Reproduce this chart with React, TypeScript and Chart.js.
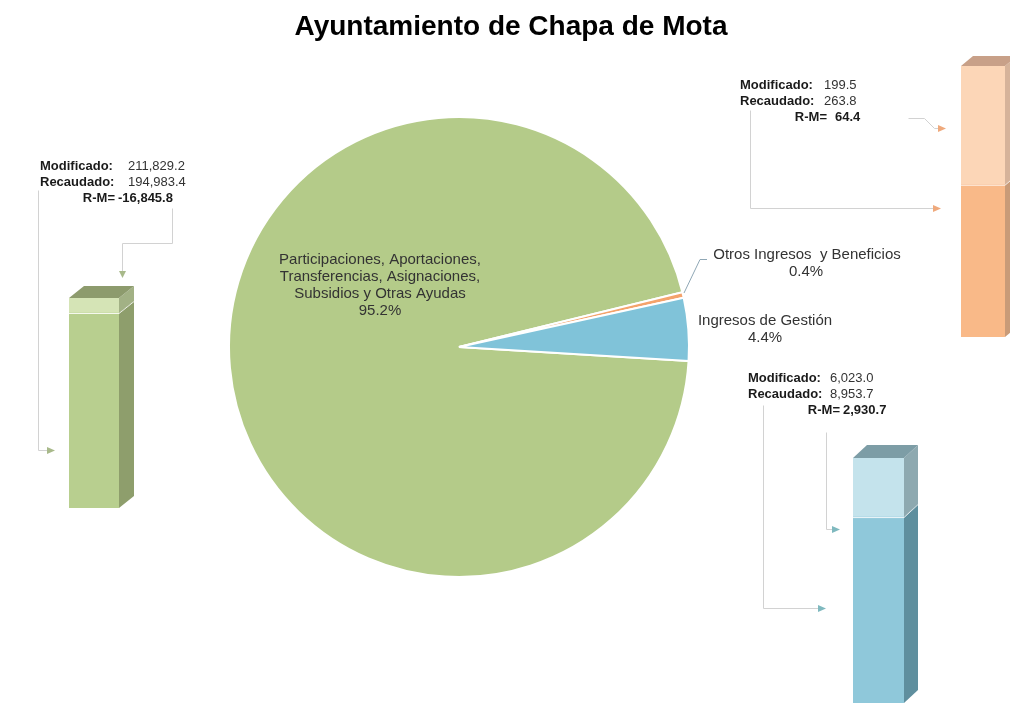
import React, { useEffect, useRef } from "react";
import { Chart, registerables } from "chart.js";

Chart.register(...registerables);

const TITLE = "Ayuntamiento de Chapa de Mota";

// Pie
const pieCategories = [
  "Participaciones, Aportaciones, Transferencias, Asignaciones, Subsidios y Otras Ayudas",
  "Otros Ingresos  y Beneficios",
  "Ingresos de Gestión",
];
const pieShares = [95.2, 0.4, 4.4];
const pieColors = ["#b4cb89", "#f4a36c", "#80c3d9"];

// Bars (Modificado / Recaudado per category)
const barCategories = ["Participaciones", "Otros Ingresos", "Ingresos de Gestión"];
const modificado = [211829.2, 199.5, 6023.0];
const recaudado = [194983.4, 263.8, 8953.7];
const rmValues = [-16845.8, 64.4, 2930.7];
// lower bound of each (hidden) bar value axis
const barAxisMin = [-24000, 117, -3200];

const FONT = "'Liberation Sans', Arial, Helvetica, sans-serif";

const fmt = (v: number) =>
  v.toLocaleString("en-US", { minimumFractionDigits: 1, maximumFractionDigits: 1 });

type Pt = [number, number];

function poly(ctx: CanvasRenderingContext2D, pts: Pt[], color: string) {
  ctx.beginPath();
  ctx.moveTo(pts[0][0], pts[0][1]);
  for (let i = 1; i < pts.length; i++) ctx.lineTo(pts[i][0], pts[i][1]);
  ctx.closePath();
  ctx.fillStyle = color;
  ctx.fill();
}

function connector(
  ctx: CanvasRenderingContext2D,
  pts: Pt[],
  arrowColor: string,
  dir: "right" | "down"
) {
  ctx.save();
  ctx.strokeStyle = "#d2d2d2";
  ctx.lineWidth = 1;
  ctx.beginPath();
  ctx.moveTo(pts[0][0] + 0.5, pts[0][1] + 0.5);
  for (let i = 1; i < pts.length; i++) ctx.lineTo(pts[i][0] + 0.5, pts[i][1] + 0.5);
  ctx.stroke();
  const [ex, ey] = pts[pts.length - 1];
  ctx.fillStyle = arrowColor;
  ctx.beginPath();
  if (dir === "right") {
    ctx.moveTo(ex, ey - 3);
    ctx.lineTo(ex + 8, ey + 0.5);
    ctx.lineTo(ex, ey + 4);
  } else {
    ctx.moveTo(ex - 3, ey);
    ctx.lineTo(ex + 0.5, ey + 7);
    ctx.lineTo(ex + 4, ey);
  }
  ctx.closePath();
  ctx.fill();
  ctx.restore();
}

function annotationBlock(
  ctx: CanvasRenderingContext2D,
  idx: number,
  labelX: number,
  valueX: number,
  rmEndX: number,
  rmValueX: number,
  y0: number,
  step: number
) {
  ctx.save();
  ctx.textBaseline = "middle";
  ctx.fillStyle = "#1a1a1a";
  const bold = `bold 13px ${FONT}`;
  const reg = `13px ${FONT}`;
  ctx.textAlign = "left";
  ctx.font = bold;
  ctx.fillText("Modificado:", labelX, y0);
  ctx.fillText("Recaudado:", labelX, y0 + step);
  ctx.font = reg;
  ctx.fillStyle = "#333";
  ctx.fillText(fmt(modificado[idx]), valueX, y0);
  ctx.fillText(fmt(recaudado[idx]), valueX, y0 + step);
  ctx.fillStyle = "#1a1a1a";
  ctx.font = bold;
  ctx.textAlign = "right";
  ctx.fillText("R-M=", rmEndX, y0 + 2 * step);
  ctx.textAlign = "left";
  ctx.fillText(fmt(rmValues[idx]), rmValueX, y0 + 2 * step);
  ctx.restore();
}

const overlayPlugin = {
  id: "overlay",
  afterDraw(chart: any) {
    const ctx: CanvasRenderingContext2D = chart.ctx;
    ctx.save();
    // title
    ctx.fillStyle = "#000";
    ctx.font = `bold 28px ${FONT}`;
    ctx.textAlign = "center";
    ctx.textBaseline = "alphabetic";
    ctx.fillText(TITLE, 511, 35);

    // pie labels
    ctx.font = `15px ${FONT}`;
    ctx.fillStyle = "#333";
    ctx.textBaseline = "middle";
    const greenLines = [
      "Participaciones, Aportaciones,",
      "Transferencias, Asignaciones,",
      "Subsidios y Otras Ayudas",
      `${pieShares[0].toFixed(1)}%`,
    ];
    greenLines.forEach((t, i) => ctx.fillText(t, 380, 260 + i * 17));
    ctx.fillText(pieCategories[1], 807, 255);
    ctx.fillText(`${pieShares[1].toFixed(1)}%`, 806, 272);
    ctx.fillText(pieCategories[2], 765, 321);
    ctx.fillText(`${pieShares[2].toFixed(1)}%`, 765, 338);

    // leader line for small slice
    ctx.strokeStyle = "#8fa7b5";
    ctx.lineWidth = 1;
    ctx.beginPath();
    ctx.moveTo(684, 293);
    ctx.lineTo(700, 259.5);
    ctx.lineTo(707, 259.5);
    ctx.stroke();

    // annotation blocks
    annotationBlock(ctx, 0, 40, 128, 115, 118, 166, 16);
    annotationBlock(ctx, 1, 740, 824, 827, 835, 85, 16);
    annotationBlock(ctx, 2, 748, 830, 840, 843, 378, 16);

    // connectors
    connector(ctx, [[38, 190], [38, 450], [47, 450]], "#a8b98a", "right");
    connector(ctx, [[172, 208], [172, 243], [122, 243], [122, 271]], "#a8b98a", "down");
    connector(ctx, [[908, 118], [924, 118], [934, 128], [938, 128]], "#efa97c", "right");
    connector(ctx, [[750, 110], [750, 208], [933, 208]], "#efa97c", "right");
    connector(ctx, [[763, 405], [763, 608], [818, 608]], "#7fb9bf", "right");
    connector(ctx, [[826, 432], [826, 529], [832, 529]], "#7fb9bf", "right");
    ctx.restore();
  },
};

const bar3dPlugin = {
  id: "bar3d",
  afterDatasetsDraw(chart: any, _args: any, opts: any) {
    const ctx: CanvasRenderingContext2D = chart.ctx;
    const { dx, dy, side, top } = opts;
    ctx.save();
    chart.data.datasets.forEach((_ds: any, di: number) => {
      const meta = chart.getDatasetMeta(di);
      meta.data.forEach((el: any) => {
        const p = el.getProps(["x", "y", "base", "width"], true);
        const l = p.x - p.width / 2;
        const r = p.x + p.width / 2;
        const yt = Math.min(p.y, p.base);
        const yb = Math.max(p.y, p.base);
        poly(ctx, [[r, yt], [r + dx, yt - dy], [r + dx, yb - dy], [r, yb]], side[di]);
        if (di === chart.data.datasets.length - 1) {
          poly(ctx, [[l, yt], [l + dx, yt - dy], [r + dx, yt - dy], [r, yt]], top);
        } else {
          ctx.strokeStyle = "rgba(255,255,255,0.85)";
          ctx.lineWidth = 1;
          ctx.beginPath();
          ctx.moveTo(l, yt + 0.5);
          ctx.lineTo(r, yt + 0.5);
          ctx.lineTo(r + dx, yt - dy + 0.5);
          ctx.stroke();
        }
      });
    });
    ctx.restore();
  },
};

type BarSpec = {
  idx: number;
  left: number;
  top: number;
  width: number;
  height: number;
  dx: number;
  dy: number;
  padBottom: number;
  front: [string, string];
  side: [string, string];
  topColor: string;
};

function Bar3D({ spec }: { spec: BarSpec }) {
  const ref = useRef<HTMLCanvasElement>(null);
  useEffect(() => {
    const i = spec.idx;
    const lower = Math.min(modificado[i], recaudado[i]);
    const upper = Math.max(modificado[i], recaudado[i]);
    const chart = new Chart(ref.current as HTMLCanvasElement, {
      type: "bar",
      data: {
        labels: [barCategories[i]],
        datasets: [
          {
            label: "base",
            data: [[barAxisMin[i], lower]] as any,
            backgroundColor: spec.front[0],
            grouped: false,
            borderWidth: 0,
            borderSkipped: false,
          } as any,
          {
            label: "diferencia",
            data: [[lower, upper]] as any,
            backgroundColor: spec.front[1],
            grouped: false,
            borderWidth: 0,
            borderSkipped: false,
          } as any,
        ],
      },
      options: {
        animation: false,
        responsive: false,
        maintainAspectRatio: false,
        events: [],
        layout: { padding: { top: spec.dy, right: spec.dx, bottom: spec.padBottom, left: 0 } },
        datasets: { bar: { barPercentage: 1, categoryPercentage: 1 } },
        scales: {
          x: { display: false },
          y: { display: false, min: barAxisMin[i], max: upper },
        },
        plugins: {
          legend: { display: false },
          tooltip: { enabled: false },
          title: { display: false },
          bar3d: { dx: spec.dx, dy: spec.dy, side: spec.side, top: spec.topColor },
        } as any,
      },
      plugins: [bar3dPlugin],
    });
    return () => chart.destroy();
  }, [spec]);
  return (
    <canvas
      ref={ref}
      width={spec.width}
      height={spec.height}
      style={{ position: "absolute", left: spec.left, top: spec.top, width: spec.width, height: spec.height }}
    />
  );
}

const barSpecs: BarSpec[] = [
  {
    idx: 0,
    left: 69,
    top: 286,
    width: 65,
    height: 222,
    dx: 15,
    dy: 12,
    padBottom: 0,
    front: ["#b8cf8f", "#d5e4b6"],
    side: ["#8e9e6c", "#a2b185"],
    topColor: "#8d9b6d",
  },
  {
    idx: 1,
    left: 961,
    top: 56,
    width: 56,
    height: 281,
    dx: 12,
    dy: 10,
    padBottom: 0,
    front: ["#f9b988", "#fcd6b7"],
    side: ["#c99b78", "#d6b39a"],
    topColor: "#c8a088",
  },
  {
    idx: 2,
    left: 853,
    top: 445,
    width: 65,
    height: 262,
    dx: 14,
    dy: 13,
    padBottom: 4,
    front: ["#8fc8da", "#c4e3ec"],
    side: ["#5f8f9e", "#8ea9b0"],
    topColor: "#7d9da6",
  },
];

function PieLayer() {
  const ref = useRef<HTMLCanvasElement>(null);
  useEffect(() => {
    const chart = new Chart(ref.current as HTMLCanvasElement, {
      type: "pie",
      data: {
        labels: pieCategories,
        datasets: [
          {
            data: pieShares,
            backgroundColor: pieColors,
            borderColor: "#ffffff",
            borderWidth: 2,
          },
        ],
      },
      options: {
        animation: false,
        responsive: false,
        maintainAspectRatio: false,
        events: [],
        rotation: 93.5,
        layout: { padding: { left: 228, right: 320, top: 116, bottom: 129 } },
        plugins: {
          legend: { display: false },
          tooltip: { enabled: false },
          title: { display: false },
        },
      },
      plugins: [overlayPlugin],
    });
    return () => chart.destroy();
  }, []);
  return (
    <canvas
      ref={ref}
      width={1010}
      height={707}
      style={{ position: "absolute", left: 0, top: 0, width: 1010, height: 707 }}
    />
  );
}

export default function App() {
  return (
    <div
      style={{
        position: "absolute",
        left: 0,
        top: 0,
        width: 1010,
        height: 707,
        overflow: "hidden",
        background: "#ffffff",
      }}
    >
      <PieLayer />
      {barSpecs.map((s) => (
        <Bar3D key={s.idx} spec={s} />
      ))}
    </div>
  );
}
